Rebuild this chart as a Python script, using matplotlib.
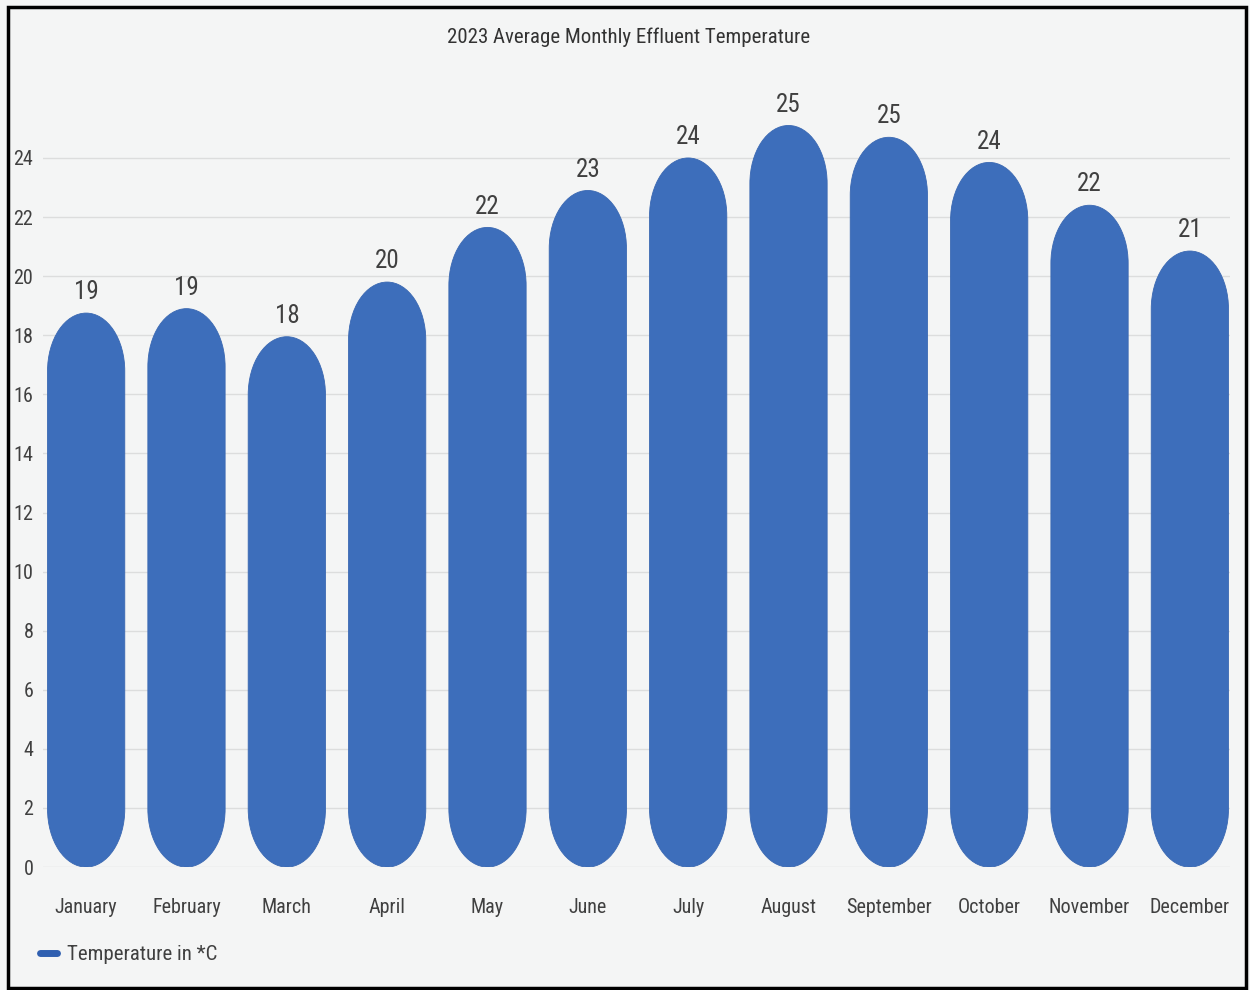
"""2023 average monthly effluent temperature - pill shaped bars"""

import numpy as np
import matplotlib
matplotlib.use('Agg')
import matplotlib.pyplot as plt
from matplotlib.patches import PathPatch, Rectangle
from matplotlib.path import Path
from matplotlib.lines import Line2D

months = ['January', 'February', 'March', 'April', 'May', 'June', 'July',
          'August', 'September', 'October', 'November', 'December']
temps = [18.75, 18.9, 17.95, 19.8, 21.65, 22.9, 24.0, 25.1, 24.7, 23.85, 22.4, 20.85]
labels = [19, 19, 18, 20, 22, 23, 24, 25, 25, 24, 22, 21]
yticks = list(range(0, 25, 2))

plt.rcParams['font.family'] = ['Roboto Condensed', 'Sofia Sans Condensed', 'DejaVu Sans']

bg = '#f4f5f5'
blue = '#3d6ebb'
txt = '#404040'

fig = plt.figure(figsize=(12.5, 9.9), dpi=100, facecolor=bg)
ax = fig.add_axes([0.0344, 0.1242, 0.9496, 0.7998])
ax.set_facecolor(bg)

ymax = 26.8
ax.set_xlim(-0.43, 11.4)
ax.set_ylim(0, ymax)

w = 0.77
px_per_unit = 0.7998 * 990 / ymax
ry = 58 / px_per_unit          # vertical radius of the rounded ends


def pill(xc, top):
    # bar from 0 to top with half-ellipse ends
    up = Path.arc(0, 180)
    down = Path.arc(180, 360)
    v1 = up.vertices * [w / 2, ry] + [xc, top - ry]
    v2 = down.vertices * [w / 2, ry] + [xc, ry]
    c2 = down.codes.copy()
    c2[0] = Path.LINETO
    verts = np.concatenate([v1, v2, v1[:1]])
    codes = np.concatenate([up.codes, c2, [Path.CLOSEPOLY]])
    return Path(verts, codes)


x = np.arange(len(months))
for xi, v in zip(x, temps):
    ax.add_patch(PathPatch(pill(xi, v), fc=blue, ec='#3a68b2', lw=0.6, zorder=2))

for xi, v, lab in zip(x, temps, labels):
    ax.text(xi, v + 0.3, str(lab), ha='center', va='bottom', fontsize=18, color=txt)

ax.set_yticks(yticks)
ax.set_yticklabels([str(t) for t in yticks], fontsize=14.5, color=txt)
ax.set_xticks(x)
ax.set_xticklabels(months, fontsize=14.5, color=txt)
ax.tick_params(axis='both', length=0)
ax.tick_params(axis='y', pad=7)
ax.tick_params(axis='x', pad=22)
ax.grid(axis='y', color='#dcdddd', lw=1, zorder=0)
for s in ax.spines.values():
    s.set_visible(False)

fig.text(0.503, 0.962, '2023 Average Monthly Effluent Temperature', ha='center', va='center',
         fontsize=15, color='#333333')

handle = Line2D([0], [0], color='#2f5fb0', lw=5, solid_capstyle='round')
fig.legend([handle], ['Temperature in *C'], loc='center left', bbox_to_anchor=(0.017, 0.036),
           frameon=False, fontsize=15, handlelength=0.8, handletextpad=0.5,
           labelcolor=txt)

# black frame around the picture
fig.add_artist(Rectangle((0.006, 0.002), 0.991, 0.991, transform=fig.transFigure,
                         fill=False, ec='black', lw=2.5))

fig.savefig('out.png', dpi=100, facecolor=bg)
